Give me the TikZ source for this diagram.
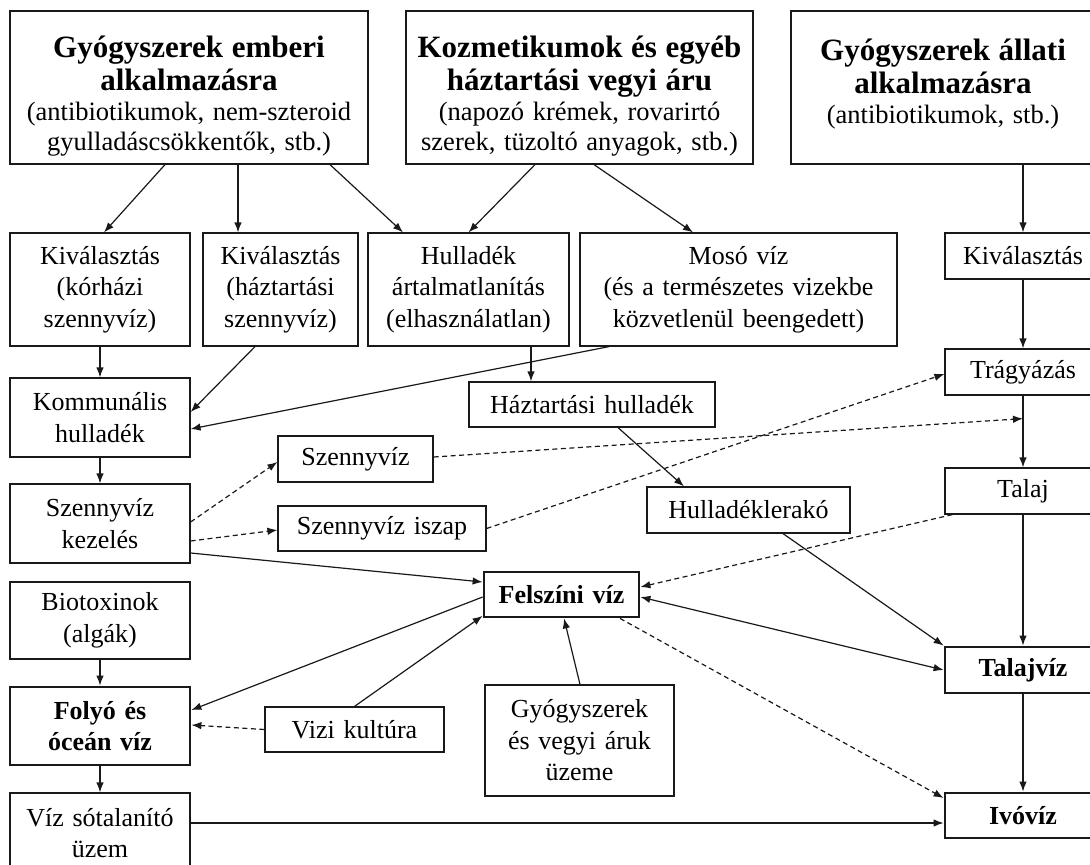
\documentclass[tikz,border=0pt]{standalone}
\usepackage{fontspec}
\setmainfont{Liberation Serif}
\usetikzlibrary{arrows.meta}
\newcommand{\nrm}{\fontsize{26}{31.5}\selectfont}
\newcommand{\bdy}{\fontsize{26.5}{30}\selectfont}
\newcommand{\ttl}{\fontsize{31}{33}\selectfont\bfseries}
\newcommand{\tstrut}{\rule{0pt}{38pt}}
\begin{document}
\begin{tikzpicture}[x=1pt,y=-1pt,
  box/.style={draw=black!90, line width=1.2pt, inner sep=0pt, align=center, font=\nrm},
  bbox/.style={box, line width=2.8pt, font=\nrm\bfseries},
  arr/.style={draw=black!90, line width=1.2pt, -{Latex[length=10pt,width=7.5pt]}},
  darr/.style={arr, dash pattern=on 5pt off 3.5pt},
]
\useasboundingbox[fill=white] (0,0) rectangle (1090,865);

% top row
\node[box, text width=358pt, minimum height=153pt] (B1) at (189,87.5)
  {{\ttl \tstrut Gyógyszerek emberi\\ alkalmazásra\par}{\bdy (antibiotikumok, nem-szteroid\\ gyulladáscsökkentők, stb.)\par}};
\node[box, text width=347pt, minimum height=153pt] (B2) at (579.5,87.5)
  {{\ttl \tstrut Kozmetikumok és egyéb\\ háztartási vegyi áru\par}{\bdy (napozó krémek, rovarirtó\\ szerek, tüzoltó anyagok, stb.)\par}};
\node[box, text width=304pt, minimum height=153pt] (B3) at (943,87.5)
  {{\ttl \tstrut Gyógyszerek állati\\ alkalmazásra\par}{\bdy (antibiotikumok, stb.)\\ \mbox{}\par}};

% second row
\node[box, text width=180pt, minimum height=113pt] (K1) at (100,289.5) {Kiválasztás\\ (kórházi\\ szennyvíz)};
\node[box, text width=155pt, minimum height=113pt] (K2) at (280.5,289.5) {Kiválasztás\\ (háztartási\\ szennyvíz)};
\node[box, text width=201pt, minimum height=113pt] (HA) at (468.5,289.5) {Hulladék\\ ártalmatlanítás\\ (elhasználatlan)};
\node[box, text width=317pt, minimum height=113pt] (MV) at (738.5,289.5) {Mosó víz\\ (és a természetes vizekbe\\ közvetlenül beengedett)};
\node[box, text width=156pt, minimum height=46pt] (K3) at (1023,256) {Kiválasztás};

% middle
\node[box, text width=180pt, minimum height=79pt] (KH) at (100,417.5) {Kommunális\\ hulladék};
\node[box, text width=246pt, minimum height=45pt] (HH) at (592,404.5) {Háztartási hulladék};
\node[box, text width=156pt, minimum height=46pt] (TR) at (1023,372) {Trágyázás};
\node[box, text width=155pt, minimum height=46pt] (SZ) at (355.5,459) {Szennyvíz};
\node[box, text width=180pt, minimum height=79pt] (SK) at (100,523.5) {Szennyvíz\\ kezelés};
\node[box, text width=208pt, minimum height=45pt] (SI) at (382,528.5) {Szennyvíz iszap};
\node[box, text width=203pt, minimum height=46pt] (HL) at (748.5,510) {Hulladéklerakó};
\node[box, text width=156pt, minimum height=46pt] (TA) at (1023,491) {Talaj};

% lower
\node[bbox, text width=155pt, minimum height=45pt] (FV) at (561.5,594.5) {Felszíni víz};
\node[box, text width=180pt, minimum height=77pt] (BT) at (100,620.5) {Biotoxinok\\ (algák)};
\node[bbox, text width=180pt, minimum height=78pt] (FO) at (100,726) {Folyó és\\ óceán víz};
\node[box, text width=179pt, minimum height=45pt] (VK) at (354.5,729.5) {Vizi kultúra};
\node[box, text width=189pt, minimum height=111pt] (GU) at (579.5,740.5) {Gyógyszerek\\ és vegyi áruk\\ üzeme};
\node[box, text width=180pt, minimum height=80pt] (VS) at (100,833) {Víz sótalanító\\ üzem};
\node[bbox, text width=156pt, minimum height=46pt] (TV) at (1023,670) {Talajvíz};
\node[bbox, text width=156pt, minimum height=45pt] (IV) at (1023,815.5) {Ivóvíz};

\coordinate (TM) at ([yshift=-23pt]TR.south);

% connectors from top row
\draw[arr] ([xshift=-24pt]B1.south) -- ([xshift=4pt]K1.north);
\draw[arr] ([xshift=49pt]B1.south) -- ([xshift=49pt]B1.south |- K2.north);
\draw[arr] ([xshift=141pt]B1.south) -- ([xshift=-65.5pt]HA.north);
\draw[arr] ([xshift=-44.5pt]B2.south) -- (HA.north);
\draw[arr] ([xshift=14.5pt]B2.south) -- ([xshift=-45.5pt]MV.north);
\draw[arr] (K3.north |- B3.south) -- (K3.north);

% second row
\draw[arr] (K1.south) -- (KH.north);
\draw[arr] ([xshift=-25.5pt]K2.south) -- ([yshift=5.5pt]KH.east);
\draw[arr] ([xshift=-129.5pt]MV.south) -- ([yshift=-11.5pt]KH.east);
\draw[arr] ([xshift=62.5pt]HA.south) -- ([xshift=62.5pt]HA.south |- HH.north);
\draw[arr] (K3.south) -- (TR.north);
\draw[arr] (TR.south) -- (TA.north);
\draw[arr] (TA.south) -- (TV.north);
\draw[arr] (TV.south) -- (IV.north);
\draw[arr] (KH.south) -- (SK.north);
\draw[arr] (BT.south) -- (FO.north);
\draw[arr] (FO.south) -- (VS.north);
\draw[arr] ([xshift=26pt]HH.south) -- ([xshift=-64.5pt]HL.north);
\draw[arr] ([xshift=34.5pt]HL.south) -- (TV.north west);

% dashed
\draw[darr] ([yshift=1.5pt]SK.east) -- ([yshift=-3pt]SZ.west);
\draw[darr] ([yshift=-17.5pt]SK.east) -- ([yshift=-1.5pt]SI.west);
\draw[darr] ([yshift=2pt]SZ.east) -- (TM);
\draw[darr] (SI.east) -- ([yshift=-2pt]TR.west);
\draw[darr] ([xshift=8pt]TA.south west) -- ([yshift=7.5pt]FV.east);
\draw[darr] (VK.west) -- ([yshift=1pt]FO.east);
\draw[darr] ([xshift=58.5pt]FV.south) -- ([yshift=17.5pt]IV.west);

% solid lower
\draw[arr] ([yshift=-29.5pt]SK.east) -- ([yshift=12.5pt]FV.west);
\draw[arr] ([yshift=-2.5pt]FV.west) -- ([yshift=16pt]FO.east);
\draw[arr] (VK.north) -- ([yshift=2.5pt]FV.south west);
\draw[arr] ([xshift=0.5pt]GU.north) -- ([xshift=2.5pt]FV.south);
\draw[arr, {Latex[length=10pt,width=7.5pt]}-{Latex[length=10pt,width=7.5pt]}] ([yshift=-2.5pt]FV.east) -- (TV.west);
\draw[arr] ([yshift=10pt]VS.east) -- ([yshift=10pt]VS.east -| IV.west);
\end{tikzpicture}
\end{document}
